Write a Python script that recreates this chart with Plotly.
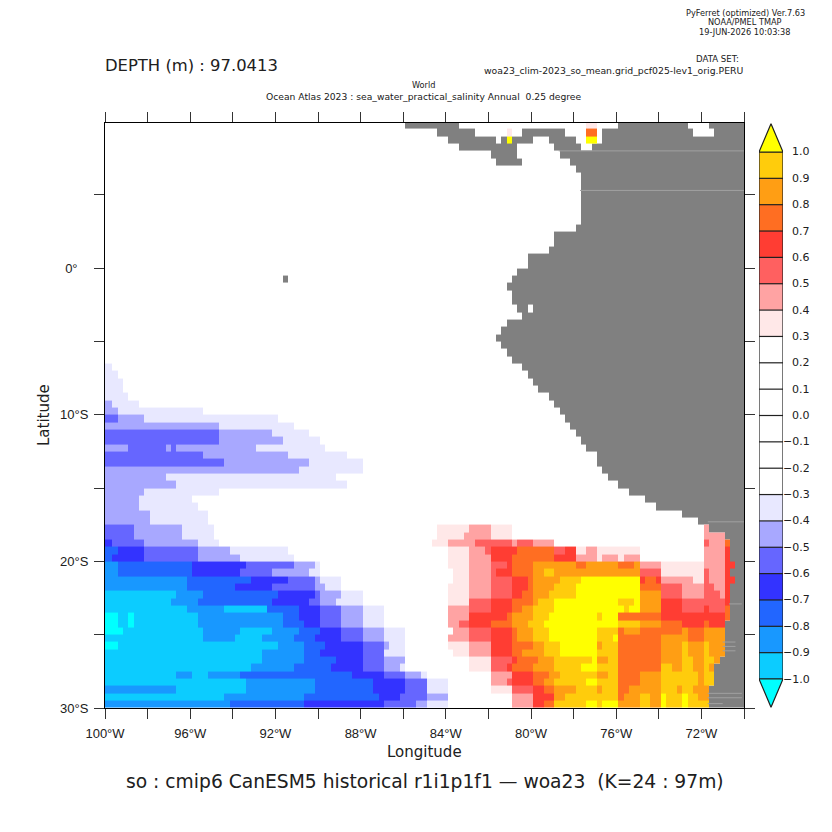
import numpy as np
import plotly.graph_objects as go

W = 832

# anomaly bins: code -> bin middle
BIN_CODES = "ponmlkji" + "abcdefgh"
BIN_VALUES = [-1.05, -0.95, -0.85, -0.75, -0.65, -0.55, -0.45, -0.35,
              0.35, 0.45, 0.55, 0.65, 0.75, 0.85, 0.95, 1.05]
BIN_COLORS = ["#00ffff", "#0cccff", "#1898ff", "#2266ff", "#3333ff", "#6666ff", "#a8a8ff", "#e8e8ff",
              "#ffe8e8", "#ffa3a3", "#ff6060", "#ff3d33", "#ff6e22", "#ff9e14", "#ffcc0c", "#ffff00"]
LAND_COLOR = "#808080"

# each row: code + end column, top row first (0.5 deg lat, 0.25 deg lon)
ROWS_NORTH = [".90 a92", ".75 a76 .90 e92", ".75 h76 .90 h92"]
ROWS_BLANK = [""] * 30
ROWS_MID = [
    "i1", "i2", "i3", "i3", "i4", "j1 i6", "j2 i18", "k2 j7 i32", "j21 i35", "k21 j31 i38", "k21 j33 i40",
    "j4 k11 j12 k13 j28 i41", "k18 j34 i45", "k22 j38 i48", "j36 i48", "j11 i43", "j13 i45",
    "j7 i21", "j6 i16", "j6 i17", "j8 i19", "j8 i19",
]
ROWS_SOUTH = [
    "k5 j14 i20 .62 a68 b72 a76 .112 b113",
    "k5 j14 i20 .62 a67 b72 a76 .112 b116",
    "l1 k7 j17 i21 .61 a64 b69 c76 b77 c80 b84 .112 c113 b116 e117",
    "m2 l7 k17 j23 i34 .64 a68 b71 c72 d77 e84 c86 d88 a90 b92 a100 .112 b116 d117",
    "m1 l7 k17 j25 i35 .64 a68 b72 d76 e84 d88 b92 a93 b96 a97 b100 .112 b116 d117",
    "n2 m16 l26 k35 j39 i40 .64 a68 b72 c75 d76 e80 f88 e90 f96 e99 f100 b104 a112 b116 d118",
    "n2 m16 l25 k31 j38 i40 .65 a68 b72 c73 d76 e80 f82 g84 f100 c104 a112 c113 b116 d117",
    "n15 m27 l34 k39 j40 i44 .65 a68 b72 c76 d79 e80 f85 g89 h100 d101 e103 d104 b110 a112 c113 b116 d118",
    "n15 m24 l31 k39 j41 i44 .64 a68 b72 c76 d79 e80 f84 g88 h100 e104 c108 b112 c114 b116 d117",
    "o13 n18 m32 l39 k40 j44 i48 .64 a68 b72 c76 d78 e80 f83 g88 h100 f104 c108 b112 c115 b116 d117",
    "o12 n17 m31 l38 k40 j43 i48 .64 a68 c72 d76 e80 f81 g84 h96 g99 h100 f104 d108 c116 d117",
    "o15 n22 o30 m36 l40 k44 j48 i52 .64 b68 c72 d76 e78 f80 g84 h97 g98 h100 f104 d108 c112 d113 c116 e117",
    "p2 o4 p5 o17 n33 m36 l40 k44 j48 i52 .64 b68 d75 e76 f80 g83 h92 g93 h96 e104 d116 e117",
    "p2 o4 p5 o17 n33 m37 l40 k44 j48 i52 .64 b66 c68 d72 e76 f79 g82 h96 g100 f104 e108 d112 e113 d116",
    "p3 o18 n25 o31 n36 m40 l44 k48 j52 i56 .65 b68 c72 d76 e77 f80 g83 h92 g96 e97 f100 e108 f109 e112 f116",
    "o18 n24 o29 n35 m39 l44 k48 j52 i56 .64 b68 c72 d76 e77 f80 g83 h92 g95 h96 e104 f109 e112 f116",
    "p2 o32 n37 m41 l48 k52 j53 i56 .64 a68 b72 d76 e80 f82 g85 h92 f93 g96 e104 f108 g109 f112 g113 f116",
    "o29 n37 m40 l48 k52 i56 .65 a68 b72 d76 e78 f82 g85 h92 g96 e104 f108 g109 f112 g113 f116",
    "o29 n37 m43 l48 k52 j56 .68 a72 c76 d77 e81 f84 g91 h92 f94 g96 e104 f108 g110 f112 g114 f115",
    "o27 n35 m42 l48 k52 j55 i56 .68 a72 c75 d76 e80 f84 g89 h92 g96 e104 g106 f108 g110 f112 g113 f114",
    "o13 n16 o19 n25 m46 l52 k56 j59 i60 .72 b76 d80 e83 f85 g92 f94 g96 e100 f104 g111 f112 g114",
    "o26 n39 m50 l56 k60 i64 .72 b75 c76 d80 e82 f84 g90 h92 g96 e100 f104 g111 f112 g114",
    "n13 o26 n39 m50 l56 k60 i64 .72 a76 c80 d82 e84 f88 g92 f93 g96 e98 f104 g107 f108 g110 f113",
    "o22 n37 m51 l55 k60 j64 .76 b80 d84 f86 g96 e97 f100 g102 f104 h105 g108 h109 g111 f113",
    "n23 m37 l52 k58 j60 i64 .76 b80 d82 e84 g90 h92 g93 h96 f100 g102 f104 h105 g108 h109 g113",
]

LAND_NORTH = [
    ".56 #66 .96 #109 .113 #121",
    ".62 #69 .78 #86 .93 #110 .114 #121",
    ".64 #73 .74 #80 .83 #88 .93 #121",
    ".66 #77 .84 #89 .91 #121",
    ".72 #77 .85 #121",
    ".73 #78 .87 #121",
]
# first land column of the main coast, rows 6 to 79
COAST_EDGE = [
    88, 89, 89, 89, 89, 89, 89, 89, 88, 84, 84, 83, 79, 79, 77, 76, 75, 76, 76, 77,
    78, 75, 74, 73, 74, 75, 76, 78, 79, 80, 81, 83, 84, 85, 86, 87, 88, 89, 90, 92,
    92, 93, 94, 96, 98, 101, 103, 108, 111, 113, 116, 117, 117, 117, 117, 117, 117, 117, 117, 117,
    117, 117, 116, 116, 116, 116, 116, 115, 114, 114, 114, 113, 113, 113,
]
LAND_HOLE = (25, 79, 80)
ISLAND = (21, 33, 34)
# thin gaps in the land mask: lat, west lon, east lon
STREAK_LAT = [8.0, 5.3, -17.3, -22.9, -25.5, -25.8, -26.1, -29.0, -29.3, -29.7]
STREAK_WEST = [-78.7, -77.7, -71.7, -70.7, -71.0, -71.0, -71.0, -71.7, -71.7, -71.7]
STREAK_EAST = [-70, -70, -70, -70.1, -70.4, -70.4, -70.4, -70.1, -70.1, -71.0]

COLORBAR_LEVELS = [round(-1.0 + 0.1 * i, 1) for i in range(21)]
X_TICKS = list(range(-100, -69, 2))
X_LABELS = ["100°W", "", "96°W", "", "92°W", "", "88°W", "", "84°W", "", "80°W", "", "76°W", "", "72°W", "", ""]
Y_TICKS = list(range(-30, 6, 5))
Y_LABELS = ["30°S", "", "20°S", "", "10°S", "", "0°\u00a0\u00a0\u00a0", ""]


def parse_runs(text, n_cols=121):
    out = [""] * n_cols
    start = 0
    for run in text.split():
        code, end = run[0], int(run[1:])
        for c in range(start, min(end, n_cols)):
            out[c] = code
        start = end
    return out


def stepped_scale(zmin, zmax):
    edges = [round(-1.1 + 0.1 * i, 1) for i in range(23)]
    scale = []
    for lo, hi in zip(edges[:-1], edges[1:]):
        mid = (lo + hi) / 2
        color = "#ffffff"
        for v, c in zip(BIN_VALUES, BIN_COLORS):
            if abs(v - mid) < 0.01:
                color = c
        scale.append([(lo - zmin) / (zmax - zmin), color])
        scale.append([(hi - zmin) / (zmax - zmin), color])
    return scale


code_to_value = dict(zip(BIN_CODES, BIN_VALUES))
rows = ROWS_NORTH + ROWS_BLANK + ROWS_MID + ROWS_SOUTH
z = np.full((80, 121), np.nan)
for r, text in enumerate(rows):
    for c, code in enumerate(parse_runs(text)):
        if code in code_to_value:
            z[r, c] = code_to_value[code]

land_rows = LAND_NORTH + [f".{e} #121" for e in COAST_EDGE]
land = np.full((80, 121), np.nan)
for r, text in enumerate(land_rows):
    for c, code in enumerate(parse_runs(text)):
        if code == "#":
            land[r, c] = 1
land[LAND_HOLE[0], LAND_HOLE[1]:LAND_HOLE[2]] = np.nan
land[ISLAND[0], ISLAND[1]:ISLAND[2]] = 1

# cell edges sit 0.1 deg off the grid in the source, first and last are clipped
x_edges = [-100.0] + [-99.9 + 0.25 * c for c in range(1, 120)] + [-70.0, -69.9]
x_edges = x_edges[:122]
y_edges = [-30 + 0.5 * i for i in range(81)]

scale = stepped_scale(-1.1, 1.1)
fig = go.Figure()
fig.add_trace(go.Heatmap(x=x_edges, y=y_edges, z=land[::-1], zmin=0, zmax=1, showscale=False, hoverinfo="skip",
                         colorscale=[[0, LAND_COLOR], [1, LAND_COLOR]]))
streak_x, streak_y = [], []
for lat, west, east in zip(STREAK_LAT, STREAK_WEST, STREAK_EAST):
    streak_x += [west, east, None]
    streak_y += [lat, lat, None]
fig.add_trace(go.Scatter(x=streak_x, y=streak_y, mode="lines", line=dict(color="#a0a0a0", width=1), hoverinfo="skip"))
fig.add_trace(go.Heatmap(x=x_edges, y=y_edges, z=z[::-1], zmin=-1.1, zmax=1.1, colorscale=scale, showscale=False))

# colour key as a second axes
mids = [round((a + b) / 2, 2) for a, b in zip(COLORBAR_LEVELS[:-1], COLORBAR_LEVELS[1:])]
fig.add_trace(go.Heatmap(x=[0, 1], y=COLORBAR_LEVELS, z=[[m] for m in mids], zmin=-1.1, zmax=1.1,
                         colorscale=scale, showscale=False, xaxis="x2", yaxis="y2"))
sep_x, sep_y = [], []
for lev in COLORBAR_LEVELS:
    sep_x += [0, 1, None]
    sep_y += [lev, lev, None]
fig.add_trace(go.Scatter(x=sep_x, y=sep_y, mode="lines", line=dict(color="#202020", width=1.2),
                         xaxis="x2", yaxis="y2", hoverinfo="skip"))
fig.add_trace(go.Scatter(x=[0, 0, None, 1, 1], y=[-1, 1, None, -1, 1], mode="lines",
                         line=dict(color="#202020", width=1.2), xaxis="x2", yaxis="y2", hoverinfo="skip"))
for tip, color in [(1.107, "#ffff00"), (-1.107, "#00ffff")]:
    base = 1.0 if tip > 0 else -1.0
    fig.add_trace(go.Scatter(x=[0, 0.5, 1, 0], y=[base, tip, base, base], mode="lines", fill="toself", fillcolor=color,
                             line=dict(color="#202020", width=1.2), xaxis="x2", yaxis="y2", hoverinfo="skip"))

FONT = "DejaVu Sans"
texts = [
    ("PyFerret (optimized) Ver.7.63", 745, 13, "center", 8.2),
    ("NOAA/PMEL TMAP", 745, 22, "center", 8.2),
    ("19-JUN-2026 10:03:38", 745, 32, "center", 8.2),
    ("DATA SET:", 741, 58.5, "right", 8.6),
    ("woa23_clim-2023_so_mean.grid_pcf025-lev1_orig.PERU", 745, 70, "right", 9.3),
    ("DEPTH (m) : 97.0413", 103, 65, "left", 16.4),
    ("World", 423, 84.5, "center", 8.2),
    ("Ocean Atlas 2023 : sea_water_practical_salinity Annual\u00a0\u00a00.25 degree", 424, 96, "center", 9.2),
    ("Longitude", 424, 752, "center", 15),
    ("so : cmip6 CanESM5 historical r1i1p1f1 \u2014 woa23\u00a0\u00a0(K=24 : 97m)", 425, 781, "center", 18.7),
]
annotations = [
    dict(text=t, x=x / W, y=1 - y / W, xref="paper", yref="paper", xanchor=a, yanchor="middle", showarrow=False,
         font=dict(family=FONT, size=s, color="#202020"))
    for t, x, y, a, s in texts
]
annotations.append(dict(text="Latitude", x=44 / W, y=1 - 415 / W, xref="paper", yref="paper", textangle=-90,
                        xanchor="center", yanchor="middle", showarrow=False,
                        font=dict(family=FONT, size=15, color="#202020")))
for lev in COLORBAR_LEVELS:
    label = f"{abs(lev):.1f}" if lev >= 0 else f"\u2212{abs(lev):.1f}"
    annotations.append(dict(text=label, x=812 / W, y=lev, xref="paper", yref="y2", xanchor="right", yanchor="middle",
                            showarrow=False, font=dict(family=FONT, size=11, color="#202020")))

axis_style = dict(showgrid=False, zeroline=False, showline=True, linecolor="black", linewidth=1, mirror="ticks",
                  ticks="outside", ticklen=10, tickwidth=1.4, tickcolor="#333333", automargin=False,
                  ticklabelstandoff=3, tickfont=dict(family="Liberation Sans", size=13, color="#202020"))
fig.update_layout(
    width=W, height=W, margin=dict(l=0, r=0, t=0, b=0), showlegend=False,
    paper_bgcolor="white", plot_bgcolor="white", annotations=annotations,
    xaxis=dict(domain=[105 / W, 744 / W], range=[-100, -70], tickmode="array", tickvals=X_TICKS, ticktext=X_LABELS,
               **axis_style),
    yaxis=dict(domain=[124 / W, 709 / W], range=[-30, 9.9], tickmode="array", tickvals=Y_TICKS, ticktext=Y_LABELS,
               **axis_style),
    xaxis2=dict(domain=[759 / W, 783 / W], range=[0, 1], visible=False, anchor="y2", automargin=False),
    yaxis2=dict(domain=[124 / W, 709 / W], range=[-1.11, 1.11], visible=False, anchor="x2", automargin=False),
)
fig.write_html("out.html", config={"displayModeBar": False}, post_script="document.body.style.margin='0';")
